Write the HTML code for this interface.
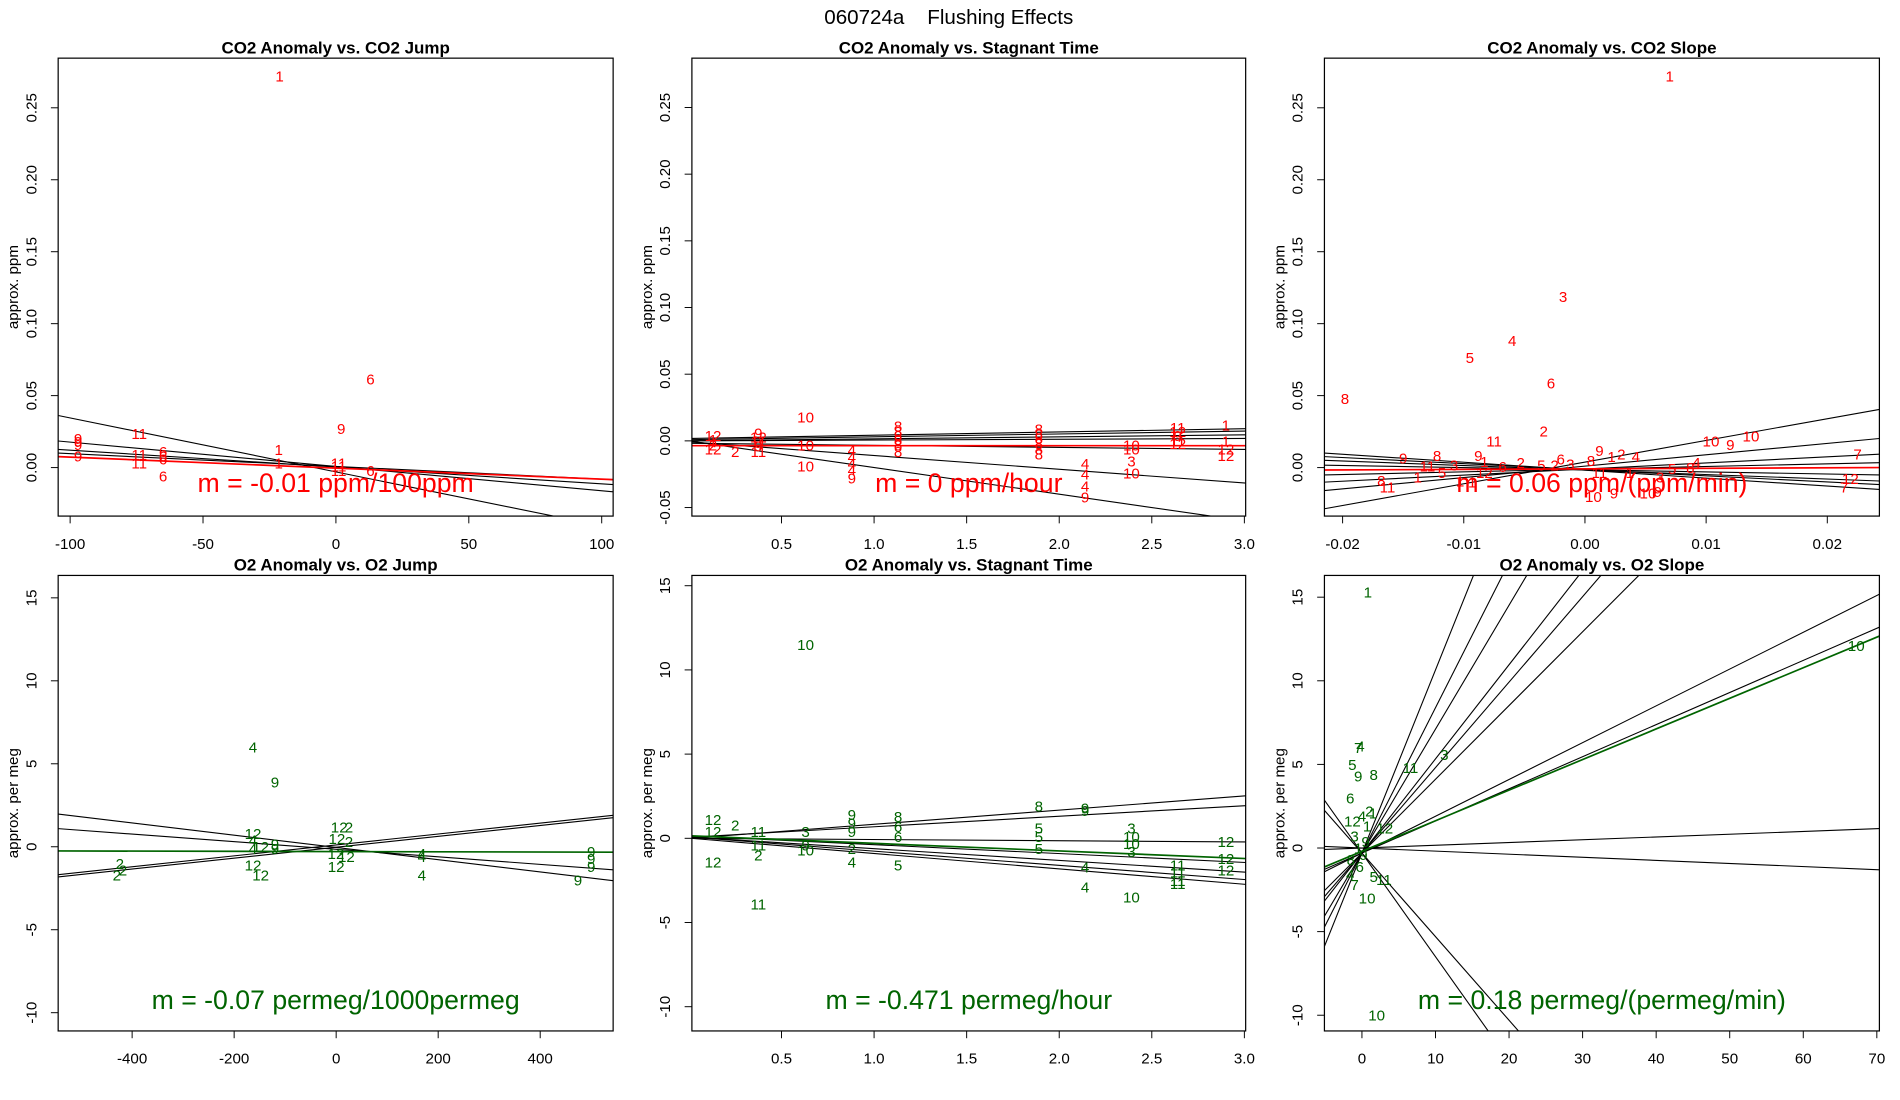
<!DOCTYPE html>
<html><head><meta charset="utf-8"><style>
html,body{margin:0;padding:0;background:#fff;overflow:hidden;width:1900px;height:1100px;}
svg{display:block;font-family:"Liberation Sans",sans-serif;}
</style></head><body>
<svg id="chart" width="1900" height="1100" viewBox="0 0 1568 908" preserveAspectRatio="none" xmlns="http://www.w3.org/2000/svg">
<rect x="0" y="0" width="1568" height="908" fill="#fff"/>
<text x="783" y="20" font-size="17" text-anchor="middle" xml:space="preserve">060724a    Flushing Effects</text>
</svg>
<script>
// ---- Panel 1: CO2 Anomaly vs CO2 Jump ----
const p1Labels=["1","6","9","11","9","9","9","1","11","11","9","6","6","6","6","11","11","11","6","1"];
const p1X=[-21.2,13,2,-74,-97,-97,-97,-21.5,-74,-74,-97,-65,-65,-65,-65,1,1,1,13,-21.5];
const p1Y=[0.272,0.0614,0.027,0.0236,0.02,0.018,0.016,0.0126,0.009,0.003,0.008,0.011,0.008,0.006,-0.006,0.003,0.001,-0.002,-0.002,0.003];
const p1LineA=[-0.003,0.0008,0.0004,0.0008];
const p1LineB=[-0.000375,-0.000169,-0.000117,-0.0000886];
const p1FitA=-0.0004, p1FitB=-0.0000766;
const p1XTicks=[-100,-50,0,50,100];
const p1YTicks=[0,0.05,0.10,0.15,0.20,0.25];
const p1XTickLabels=["-100","-50","0","50","100"];
const p1YTickLabels=["0.00","0.05","0.10","0.15","0.20","0.25"];

// ---- Panel 2: CO2 Anomaly vs Stagnant Time ----
const p2Labels=["10","10","12","1","2","12","2","9","12","11","9","11","10","4","4","4","4","9","8","8","8","8","8","8","8","8","8","8","8","8","4","4","4","9","10","10","3","10","11","12","9","11","12","1","1","12","12"];
const p2X=[0.63,0.63,0.13,0.13,0.13,0.13,0.25,0.375,0.375,0.375,0.375,0.375,0.63,0.88,0.88,0.88,0.88,0.88,1.13,1.13,1.13,1.13,1.13,1.13,1.89,1.89,1.89,1.89,1.89,1.89,2.14,2.14,2.14,2.14,2.39,2.39,2.39,2.39,2.64,2.64,2.64,2.64,2.64,2.9,2.9,2.9,2.9];
const p2Y=[0.018,-0.019,0.004,0.001,-0.003,-0.006,-0.008,0.006,0.003,0.0,-0.004,-0.008,-0.003,-0.007,-0.012,-0.017,-0.022,-0.028,0.011,0.007,0.004,0.001,-0.003,-0.008,0.009,0.005,0.002,-0.002,-0.006,-0.01,-0.017,-0.025,-0.034,-0.042,-0.003,-0.006,-0.015,-0.024,0.01,0.007,0.004,0.0,-0.002,0.012,0.0,-0.006,-0.011];
const p2LineA=[0.0018,0.0009,0,0,-0.0018,-0.0007,0];
const p2LineB=[0.00244,0.00214,0.0015,0.0006,-0.00154,-0.0103,-0.02];
const p2FitA=-0.0036, p2FitB=0;
const p2XTicks=[0.5,1.0,1.5,2.0,2.5,3.0];
const p2YTicks=[-0.05,0,0.05,0.10,0.15,0.20,0.25];
const p2XTickLabels=["0.5","1.0","1.5","2.0","2.5","3.0"];
const p2YTickLabels=["-0.05","0.00","0.05","0.10","0.15","0.20","0.25"];

// ---- Panel 3: CO2 Anomaly vs CO2 Slope ----
const p3Labels=["1","3","4","5","6","8","2","11","10","10","9","7","12","7","9","8","11","1","8","11","9","1","1","1","3","5","12","6","2","5","6","2","3","8","9","1","2","4","5","8","3","10","9","10","9","11","1","4"];
const p3X=[0.007,-0.0018,-0.006,-0.0095,-0.0028,-0.0198,-0.0034,-0.0075,0.0137,0.0104,0.012,0.0225,0.0219,0.0214,-0.015,-0.0122,-0.013,-0.0138,-0.0168,-0.0163,-0.0088,-0.0083,-0.0103,-0.0093,-0.0108,-0.0118,-0.0083,-0.0068,-0.0053,-0.0036,-0.002,-0.0025,-0.0012,0.0005,0.0012,0.0022,0.003,0.0042,0.0072,0.0087,0.0062,0.0007,0.0024,0.0052,0.006,0.0012,0.0037,0.0092];
const p3Y=[0.272,0.1187,0.0884,0.0766,0.0589,0.048,0.0253,0.0185,0.022,0.0185,0.016,0.0093,-0.0076,-0.0135,0.0067,0.0084,0.001,-0.0067,-0.009,-0.0135,0.0084,0.0042,-0.0093,-0.0101,0.0017,-0.0034,-0.0034,0.0008,0.0034,0.0017,0.0059,0.0017,0.0025,0.005,0.0118,0.0076,0.0093,0.0076,-0.0008,0,-0.0067,-0.0202,-0.0177,-0.0177,-0.0168,-0.0034,-0.0034,0.0034];
const p3LineA=[0.0038,0.001,-0.001,-0.0011,-0.0015,-0.0017,-0.0015,-0.0018];
const p3LineB=[1.507,0.79,0.423,0.186,-0.148,-0.314,-0.424,-0.552];
const p3FitA=-0.0009, p3FitB=0.037;
const p3XTicks=[-0.02,-0.01,0,0.01,0.02];
const p3YTicks=[0,0.05,0.10,0.15,0.20,0.25];
const p3XTickLabels=["-0.02","-0.01","0.00","0.01","0.02"];
const p3YTickLabels=["0.00","0.05","0.10","0.15","0.20","0.25"];

// ---- Panel 4: O2 Anomaly vs O2 Jump ----
const p4Labels=["4","9","12","4","12","4","9","9","12","12","12","2","12","2","12","12","12","4","4","4","9","9","9","9","2","2","2"];
const p4X=[-163,-120,-163,-163,-148,-163,-120,-120,-163,-148,6,25,1.5,25,-0.4,20,0,168,168,168,500,500,500,474,-424,-418,-430];
const p4Y=[6.0,3.9,0.8,0.4,0,-0.1,0.15,-0.1,-1.1,-1.7,1.2,1.2,0.5,0.3,-0.4,-0.6,-1.2,-0.4,-0.6,-1.7,-0.3,-0.7,-1.2,-2.0,-1.0,-1.4,-1.7];
const p4LineA=[-0.04,-0.15,0.11,-0.03];
const p4LineB=[-0.00369,-0.00228,0.00329,0.00328];
const p4FitA=-0.29, p4FitB=-0.00007;
const p4XTicks=[-400,-200,0,200,400];
const p4YTicks=[-10,-5,0,5,10,15];
const p4XTickLabels=["-400","-200","0","200","400"];
const p4YTickLabels=["-10","-5","0","5","10","15"];

// ---- Panel 5: O2 Anomaly vs Stagnant Time ----
const p5Labels=["10","11","12","12","12","2","11","11","2","3","9","10","9","9","9","2","4","8","6","6","5","8","5","5","5","9","9","4","4","3","10","10","3","10","11","11","11","11","12","12","12"];
const p5X=[0.63,0.375,0.13,0.13,0.13,0.25,0.375,0.375,0.375,0.63,0.63,0.63,0.88,0.88,0.88,0.88,0.88,1.13,1.13,1.13,1.13,1.89,1.89,1.89,1.89,2.14,2.14,2.14,2.14,2.39,2.39,2.39,2.39,2.39,2.64,2.64,2.64,2.64,2.9,2.9,2.9];
const p5Y=[11.5,-3.9,1.1,0.4,-1.4,0.8,0.4,-0.4,-1.0,0.4,-0.4,-0.7,1.4,0.9,0.4,-0.6,-1.4,1.3,0.7,0.1,-1.6,1.9,0.6,0.1,-0.6,1.8,1.65,-1.7,-2.9,0.6,0.1,-0.3,-0.8,-3.5,-1.6,-2.0,-2.5,-2.7,-0.2,-1.2,-1.9];
const p5LineA=[-0.01,0.06,0,0.15,0.08,0.08,0.01];
const p5LineB=[0.842,0.625,-0.072,-0.528,-0.696,-0.843,-0.913];
const p5FitA=0.15, p5FitB=-0.45;
const p5XTicks=[0.5,1.0,1.5,2.0,2.5,3.0];
const p5YTicks=[-10,-5,0,5,10,15];
const p5XTickLabels=["0.5","1.0","1.5","2.0","2.5","3.0"];
const p5YTickLabels=["-10","-5","0","5","10","15"];

// ---- Panel 6: O2 Anomaly vs O2 Slope ----
const p6Labels=["1","10","7","4","5","9","8","11","3","6","2","4","1","12","1","12","3","9","8","6","4","7","10","5","11","9","1","10"];
const p6X=[0.8,67.2,-0.5,-0.2,-1.3,-0.5,1.6,6.6,11.2,-1.6,1.0,0,1.5,-1.3,0.7,3.1,-1.0,0.5,-1.5,-0.3,-1.6,-1.0,0.7,1.6,3.0,0.2,-0.5,2.0];
const p6Y=[15.3,12.1,6.0,6.1,5.0,4.3,4.4,4.8,5.6,3.0,2.2,1.9,2.1,1.6,1.3,1.2,0.7,0.4,-0.7,-1.1,-1.6,-2.2,-3.0,-1.7,-1.9,-0.4,0,-10];
const p6LineA=[-0.3,-0.3,-0.3,-0.3,-0.3,-0.3,-0.3,-0.3,0,0,-0.3,-0.3];
const p6LineB=[1.095,0.869,0.741,0.563,0.511,0.441,0.22,0.192,0.0165,-0.0185,-0.62,-0.5];
const p6FitA=-0.2, p6FitB=0.183;
const p6XTicks=[0,10,20,30,40,50,60,70];
const p6YTicks=[-10,-5,0,5,10,15];
const p6XTickLabels=["0","10","20","30","40","50","60","70"];
const p6YTickLabels=["-10","-5","0","5","10","15"];

const NS="http://www.w3.org/2000/svg";
const svg=document.getElementById('chart');
function mk(tag,attrs,parent){const e=document.createElementNS(NS,tag);for(const k in attrs)e.setAttribute(k,attrs[k]);(parent||svg).appendChild(e);return e;}

const panels=[
 {id:"co2-jump",title:"CO2 Anomaly vs. CO2 Jump",l:48,r:506,t:48,b:426,x0:-104.5,x1:104.3,y0:-0.0337,y1:0.2845,ylab:"approx. ppm",col:"#ff0000",fitCol:"#ff0000",m:"m = -0.01 ppm/100ppm",my:398,
  labels:p1Labels,xs:p1X,ys:p1Y,la:p1LineA,lb:p1LineB,fa:p1FitA,fb:p1FitB,xt:p1XTicks,yt:p1YTicks,xtl:p1XTickLabels,ytl:p1YTickLabels},
 {id:"co2-stagnant",title:"CO2 Anomaly vs. Stagnant Time",l:571,r:1028,t:48,b:426,x0:0.016,x1:3.007,y0:-0.0564,y1:0.287,ylab:"approx. ppm",col:"#ff0000",fitCol:"#ff0000",m:"m = 0 ppm/hour",my:398,
  labels:p2Labels,xs:p2X,ys:p2Y,la:p2LineA,lb:p2LineB,fa:p2FitA,fb:p2FitB,xt:p2XTicks,yt:p2YTicks,xtl:p2XTickLabels,ytl:p2YTickLabels},
 {id:"co2-slope",title:"CO2 Anomaly vs. CO2 Slope",l:1093,r:1551,t:48,b:426,x0:-0.0215,x1:0.0243,y0:-0.0337,y1:0.2845,ylab:"approx. ppm",col:"#ff0000",fitCol:"#ff0000",m:"m = 0.06 ppm/(ppm/min)",my:398,
  labels:p3Labels,xs:p3X,ys:p3Y,la:p3LineA,lb:p3LineB,fa:p3FitA,fb:p3FitB,xt:p3XTicks,yt:p3YTicks,xtl:p3XTickLabels,ytl:p3YTickLabels},
 {id:"o2-jump",title:"O2 Anomaly vs. O2 Jump",l:48,r:506,t:475,b:851,x0:-545,x1:543,y0:-11.1,y1:16.35,ylab:"approx. per meg",col:"#006400",fitCol:"#006400",m:"m = -0.07 permeg/1000permeg",my:825,
  labels:p4Labels,xs:p4X,ys:p4Y,la:p4LineA,lb:p4LineB,fa:p4FitA,fb:p4FitB,xt:p4XTicks,yt:p4YTicks,xtl:p4XTickLabels,ytl:p4YTickLabels},
 {id:"o2-stagnant",title:"O2 Anomaly vs. Stagnant Time",l:571,r:1028,t:475,b:851,x0:0.016,x1:3.007,y0:-11.44,y1:15.61,ylab:"approx. per meg",col:"#006400",fitCol:"#006400",m:"m = -0.471 permeg/hour",my:825,
  labels:p5Labels,xs:p5X,ys:p5Y,la:p5LineA,lb:p5LineB,fa:p5FitA,fb:p5FitB,xt:p5XTicks,yt:p5YTicks,xtl:p5XTickLabels,ytl:p5YTickLabels},
 {id:"o2-slope",title:"O2 Anomaly vs. O2 Slope",l:1093,r:1551,t:475,b:851,x0:-5.1,x1:70.35,y0:-10.94,y1:16.3,ylab:"approx. per meg",col:"#006400",fitCol:"#006400",m:"m = 0.18 permeg/(permeg/min)",my:825,
  labels:p6Labels,xs:p6X,ys:p6Y,la:p6LineA,lb:p6LineB,fa:p6FitA,fb:p6FitB,xt:p6XTicks,yt:p6YTicks,xtl:p6XTickLabels,ytl:p6YTickLabels}
];

panels.forEach((p,pi)=>{
  const X=v=>p.l+(v-p.x0)/(p.x1-p.x0)*(p.r-p.l);
  const Y=v=>p.b-(v-p.y0)/(p.y1-p.y0)*(p.b-p.t);
  const g=mk('g',{});
  
  
  const cp=mk('clipPath',{id:'clip'+pi},g);
  mk('rect',{x:p.l,y:p.t,width:p.r-p.l,height:p.b-p.t},cp);
  const tt=mk('text',{x:(p.l+p.r)/2,y:p.t-4,'font-size':14,'font-weight':'bold','text-anchor':'middle'},g);
  tt.textContent=p.title;
  
  
  p.xt.forEach((v,i)=>{
    const x=X(v);
    mk('line',{x1:x,y1:p.b,x2:x,y2:p.b+6,stroke:'#000','stroke-width':0.8},g);
    const t=mk('text',{x:x,y:p.b+27,'font-size':12.5,'text-anchor':'middle'},g);
    t.textContent=p.xtl[i];
    
    
  });
  p.yt.forEach((v,i)=>{
    const y=Y(v);
    mk('line',{x1:p.l,y1:y,x2:p.l-6,y2:y,stroke:'#000','stroke-width':0.8},g);
    const t=mk('text',{x:p.l-18,y:y,'font-size':12.5,'text-anchor':'middle',transform:`rotate(-90 ${p.l-18} ${y})`},g);
    t.textContent=p.ytl[i];
    
    
  });
  const yl=mk('text',{x:p.l-33,y:(p.t+p.b)/2,'font-size':12.5,'text-anchor':'middle',transform:`rotate(-90 ${p.l-33} ${(p.t+p.b)/2})`},g);
  yl.textContent=p.ylab;
  
  
  const cg=mk('g',{'clip-path':`url(#clip${pi})`},g);
  p.la.forEach((a,i)=>{
    const b=p.lb[i];
    const ln=mk('line',{x1:X(p.x0),y1:Y(a+b*p.x0),x2:X(p.x1),y2:Y(a+b*p.x1),stroke:'#000','stroke-width':0.9},cg);
    
    
  });
  p.labels.forEach((lab,i)=>{
    const t=mk('text',{x:X(p.xs[i]),y:Y(p.ys[i])+4.5,'font-size':12.5,'text-anchor':'middle',fill:p.col},cg);
    t.textContent=lab;
    
    
  });
  const fl=mk('line',{x1:X(p.x0),y1:Y(p.fa+p.fb*p.x0),x2:X(p.x1),y2:Y(p.fa+p.fb*p.x1),stroke:p.fitCol,'stroke-width':1.4},cg);
  
  
  const mt=mk('text',{x:(p.l+p.r)/2,y:p.my+8,'font-size':22,'text-anchor':'middle',fill:p.col},g);
  mt.textContent=p.m;
  
  
  const fr=mk('rect',{x:p.l,y:p.t,width:p.r-p.l,height:p.b-p.t,fill:'none',stroke:'#000','stroke-width':1},g);
  
  
});
</script>
</body></html>
